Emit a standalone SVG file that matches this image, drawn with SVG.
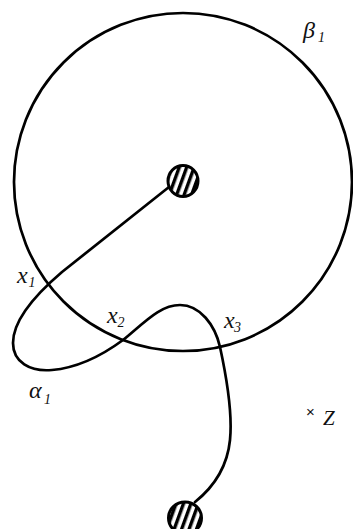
<svg xmlns="http://www.w3.org/2000/svg" width="353" height="529" viewBox="0 0 353 529">
<style>
.ln{fill:none;stroke:#000;stroke-width:2.7;stroke-linecap:round;stroke-linejoin:round}
.disk{fill:url(#hatch);stroke:#000;stroke-width:3}
.t{font-family:"Liberation Serif","Times New Roman",serif;font-style:italic;fill:#111}
.m{font-size:24px}
.s{font-size:14px}
</style>
<defs>
<pattern id="hatch" patternUnits="userSpaceOnUse" width="7" height="10" patternTransform="rotate(20)">
<rect width="7" height="10" fill="#fff"/>
<rect width="3.4" height="10" fill="#000"/>
</pattern>
</defs>
<rect width="353" height="529" fill="#fff"/>
<g id="beta1">
<circle class="ln" cx="183" cy="182" r="169"/>
<text class="t m" x="303" y="38">β</text><text class="t s" x="318" y="42">1</text>
</g>
<g id="connectors">
<path id="alpha1" class="ln" d="M 169,187 L 62,272 C 35,295 13,320 13,343 C 13,362 30,372 52,370 C 75,368 100,357 123,340 C 145,322 160,305 180,305 C 200,305 215,325 220,347 C 225,370 233,410 230,440 C 227,470 210,490 195,502"/>
</g>
<g id="disk-top">
<ellipse class="disk" cx="183" cy="181" rx="15" ry="15.5"/>
</g>
<g id="disk-bottom">
<ellipse class="disk" cx="185" cy="518" rx="16.5" ry="16"/>
</g>
<g id="labels">
<text class="t m" x="17" y="283">x</text><text class="t s" x="28.5" y="287">1</text>
<text class="t m" x="107" y="323">x</text><text class="t s" x="117.5" y="327">2</text>
<text class="t m" x="224" y="328">x</text><text class="t s" x="234" y="332">3</text>
<text class="t m" x="29" y="398">α</text><text class="t s" x="44" y="404">1</text>
<text x="306" y="417" style="font-family:'Liberation Sans',Arial,sans-serif;font-size:15px;fill:#111">×</text>
<text class="t" x="323" y="425" style="font-size:21px">Z</text>
</g>
</svg>
